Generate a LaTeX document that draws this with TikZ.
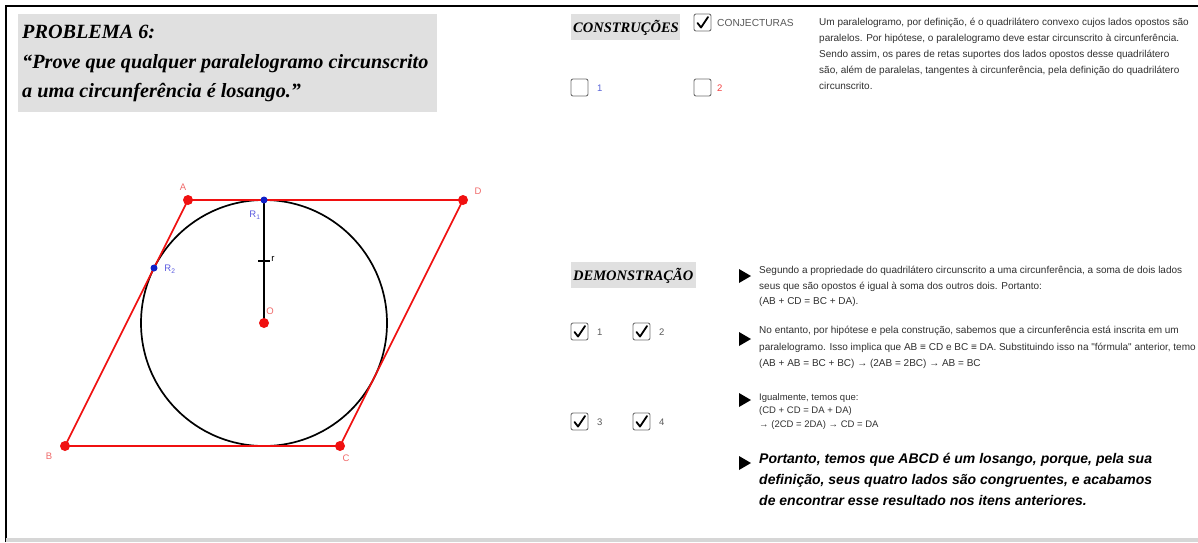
\documentclass[tikz,border=0pt]{standalone}
\usepackage{fontspec}
\setmainfont{Liberation Serif}
\setsansfont{Liberation Sans}
\newfontfamily\arialf{Liberation Sans}
\definecolor{ggred}{HTML}{F01010}
\definecolor{lblred}{HTML}{F06A6A}
\definecolor{ggblue}{HTML}{1020C8}
\definecolor{lblblue}{HTML}{5A5AE0}
\definecolor{boxgrey}{HTML}{E0E0E0}
\definecolor{txt}{HTML}{303030}
\definecolor{cbgrey}{HTML}{707070}
\tikzset{
  frame/.style={line width=2pt, black},
  greybox/.style={fill=boxgrey, draw=none},
  titletxt/.style={font=\fontsize{20.2}{22}\selectfont\bfseries\itshape, anchor=base west, inner sep=0pt, text=black},
  headtxt/.style={font=\fontsize{14.5}{16}\selectfont\bfseries\itshape, anchor=base west, inner sep=0pt, text=black},
  ptxt/.style={font=\arialf\fontsize{10}{11}\selectfont, anchor=base west, inner sep=0pt, text=txt},
  stxt/.style={font=\arialf\fontsize{9.5}{10}\selectfont, anchor=base west, inner sep=0pt, text=txt},
  btxt/.style={font=\arialf\fontsize{14}{16}\selectfont\bfseries\itshape, anchor=base west, inner sep=0pt, text=black},
  cblbl/.style={font=\arialf\fontsize{9.5}{10}\selectfont, anchor=base west, inner sep=0pt},
  cbox/.style={draw=cbgrey, line width=0.9pt, rounded corners=2pt, fill=white},
  tick/.style={line width=1.8pt, black, line cap=round, line join=round},
  playtri/.style={fill=black, draw=none},
  redline/.style={draw=ggred, line width=1.6pt},
  circ/.style={draw=black, line width=1.7pt},
  rdot/.style={circle, fill=ggred, inner sep=0pt, minimum size=10pt},
  bdot/.style={circle, fill=ggblue, inner sep=0pt, minimum size=7pt},
  ptlbl/.style={font=\arialf\fontsize{9.5}{10}\selectfont, inner sep=0pt},
}
\newcommand{\cbx}[3]{% x, y (top-left), checked?
  \draw[cbox] (#1,#2) rectangle ++(17,17);
  \ifnum#3=1 \draw[tick] (#1+3.5,#2+9) -- (#1+7,#2+13.5) -- (#1+14,#2+3);\fi
}
\newcommand{\playat}[2]{\fill[playtri] (#1-6,#2-7) -- (#1+6,#2) -- (#1-6,#2+7) -- cycle;}
\begin{document}
\begin{tikzpicture}[x=1pt,y=-1pt]
\useasboundingbox (0,0) rectangle (1198,542);
\fill[white] (0,0) rectangle (1198,542);
% frame
\draw[frame] (6,542) -- (6,6) -- (1198,6);
\fill[black!16] (6,538) rectangle (1198,542);
% title
\fill[greybox] (18,14) rectangle (437,112);
\node[titletxt] (t1) at (22,38) {PROBLEMA 6:};
\node[titletxt] (t2) at (22,68) {“Prove que qualquer paralelogramo circunscrito};
\node[titletxt] (t3) at (22,97.5) {a uma circunferência é losango.”};
% geometry
\coordinate (A) at (188,200);
\coordinate (D) at (463,200);
\coordinate (B) at (65,446);
\coordinate (C) at (340,446);
\coordinate (O) at (264,323);
\coordinate (R1) at (264,200);
\coordinate (R2) at (154,268);
\draw[circ] (O) circle (123);
\draw[redline] (A) -- (D) -- (C) -- (B) -- cycle;
\draw[black, line width=2.2pt] (O) -- (R1);
\draw[black, line width=2pt] (258,261) -- (270,261);
\node[rdot] (pA) at (A) {};
\node[rdot] (pD) at (D) {};
\node[rdot] (pB) at (B) {};
\node[rdot] (pC) at (C) {};
\node[rdot] (pO) at (O) {};
\node[bdot] (pR1) at (R1) {};
\node[bdot] (pR2) at (R2) {};
\node[ptlbl, text=lblred] (lA) at (183,187) {A};
\node[ptlbl, text=lblred] (lD) at (478,191) {D};
\node[ptlbl, text=lblred] (lB) at (49,456) {B};
\node[ptlbl, text=lblred] (lC) at (346,458) {C};
\node[ptlbl, text=lblred] (lO) at (270,311) {O};
\node[ptlbl, text=black] (lr) at (273,259) {r};
\node[ptlbl, text=lblblue] (lR1) at (255,215) {R\textsubscript{1}};
\node[ptlbl, text=lblblue] (lR2) at (170,269) {R\textsubscript{2}};
% CONSTRUCOES
\fill[greybox] (571,14) rectangle (680,40);
\node[headtxt] (h1) at (573,32) {CONSTRUÇÕES};
\cbx{694}{14}{1}
\node[cblbl, text=txt!80, font=\arialf\fontsize{10.2}{11}\selectfont] (cj) at (717,26.5) {CONJECTURAS};
\cbx{571}{79}{0}
\node[cblbl, text=ggblue!70] (c1) at (597,91) {1};
\cbx{694}{79}{0}
\node[cblbl, text=ggred!80] (c2) at (717,91) {2};
\node[ptxt] (p1) at (819,25.5) {Um paralelogramo, por definição, é o quadrilátero convexo cujos lados opostos são};
\node[ptxt] (p2) at (819,41.5) {paralelos. Por hipótese, o paralelogramo deve estar circunscrito à circunferência.};
\node[ptxt] (p3) at (819,57.5) {Sendo assim, os pares de retas suportes dos lados opostos desse quadrilátero};
\node[ptxt] (p4) at (819,73.5) {são, além de paralelas, tangentes à circunferência, pela definição do quadrilátero};
\node[ptxt] (p5) at (819,89.5) {circunscrito.};
% DEMONSTRACAO
\fill[greybox] (571,262) rectangle (696,288);
\node[headtxt] (h2) at (573,280) {DEMONSTRAÇÃO};
\cbx{571}{323}{1}
\node[cblbl, text=txt!80] (d1) at (597,335.5) {1};
\cbx{633}{323}{1}
\node[cblbl, text=txt!80] (d2) at (659,335.5) {2};
\cbx{571}{413}{1}
\node[cblbl, text=txt!80] (d3) at (597,425.5) {3};
\cbx{633}{413}{1}
\node[cblbl, text=txt!80] (d4) at (659,425.5) {4};
\playat{745}{276}
\playat{745}{339}
\playat{745}{400}
\playat{745}{463}
\node[ptxt] (a1) at (759,273) {Segundo a propriedade do quadrilátero circunscrito a uma circunferência, a soma de dois lados};
\node[ptxt] (a2) at (759,289) {seus que são opostos é igual à soma dos outros dois. Portanto:};
\node[ptxt] (a3) at (759,304.5) {(AB + CD = BC + DA).};
\node[ptxt] (b1) at (759,333.5) {No entanto, por hipótese e pela construção, sabemos que a circunferência está inscrita em um};
\node[ptxt] (b2) at (759,350.5) {paralelogramo. Isso implica que AB ≡ CD e BC ≡ DA. Substituindo isso na "fórmula" anterior, temo};
\node[ptxt] (b3) at (759,366.5) {(AB + AB = BC + BC) → (2AB = 2BC) → AB = BC};
\node[stxt] (s1) at (759,400) {Igualmente, temos que:};
\node[stxt] (s2) at (759,413) {(CD + CD = DA + DA)};
\node[stxt] (s3) at (759,427.5) {→ (2CD = 2DA) → CD = DA};
\node[btxt] (e1) at (759,463) {Portanto, temos que ABCD é um losango, porque, pela sua};
\node[btxt] (e2) at (759,484.5) {definição, seus quatro lados são congruentes, e acabamos};
\node[btxt] (e3) at (759,505) {de encontrar esse resultado nos itens anteriores.};
\end{tikzpicture}
\end{document}
